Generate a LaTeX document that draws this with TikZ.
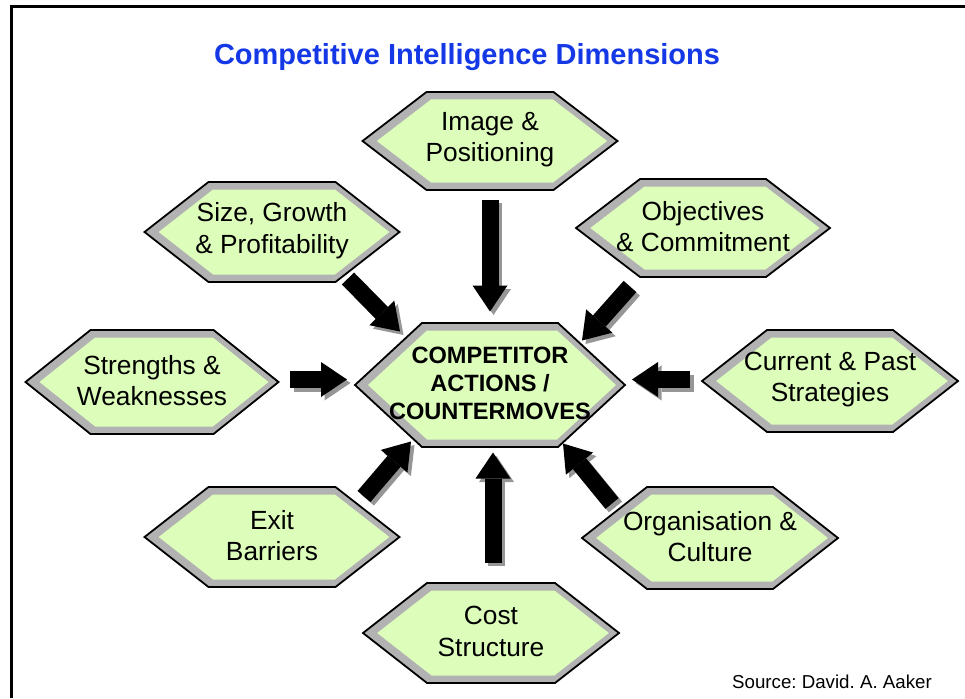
\documentclass[tikz,border=0pt]{standalone}
\usepackage{fontspec}
\setmainfont{Liberation Sans}
\usetikzlibrary{arrows.meta,calc}
\frenchspacing
\definecolor{hexgreen}{RGB}{221,253,187}
\definecolor{hexgray}{RGB}{178,178,178}
\definecolor{shadowgray}{RGB}{150,150,150}
\definecolor{titleblue}{RGB}{20,56,230}
\newcommand\hexfont{\fontsize{26.3}{31.5}\selectfont}
\newcommand\ctrfont{\bfseries\fontsize{23.6}{28}\selectfont}
% #1 name, #2 x, #3 y, #4 half width, #5 half height, #6 slant, #7 font, #8 text
\newcommand\hexbox[8]{%
  \filldraw[hexgray, draw=black, line width=1.8pt, line join=miter]
    (#2-#4,#3) -- (#2-#4+#6,#3-#5) -- (#2+#4-#6,#3-#5) -- (#2+#4,#3)
    -- (#2+#4-#6,#3+#5) -- (#2-#4+#6,#3+#5) -- cycle;
  \pgfmathsetmacro\ihh{#5-7.5}%
  \pgfmathsetmacro\isl{#6*(#5-7.5)/#5}%
  \pgfmathsetmacro\ihw{#4-7.5*sqrt(#6*#6+#5*#5)/#5}%
  \pgfmathsetmacro\icx{#2+2}%
  \fill[hexgreen]
    (\icx-\ihw,#3) -- (\icx-\ihw+\isl,#3-\ihh) -- (\icx+\ihw-\isl,#3-\ihh) -- (\icx+\ihw,#3)
    -- (\icx+\ihw-\isl,#3+\ihh) -- (\icx-\ihw+\isl,#3+\ihh) -- cycle;
  \node[font=#7, align=center, inner sep=0pt] (#1) at (#2,#3-1.5) {#8};%
}
\tikzset{
  bigarrow/.style={line width=17pt, -{Triangle[length=26pt,width=35pt,line width=0pt]}},
  arrowshadow/.style={bigarrow, draw=shadowgray, transform canvas={xshift=3.5pt,yshift=-3.5pt}},
}
% #1 from node, #2 offset, #3 to node, #4 offset
\newcommand\connect[4]{%
  \draw[arrowshadow] ($(#1)+(#2)$) -- ($(#3)+(#4)$);
  \draw[bigarrow] ($(#1)+(#2)$) -- ($(#3)+(#4)$);
}
\begin{document}
\begin{tikzpicture}[x=1pt,y=-1pt]
\useasboundingbox (0,0) rectangle (965,698);
\draw[line width=3pt] (11.3,698) -- (11.3,6.5) -- (965,6.5);
\node[font=\bfseries\fontsize{29}{34}\selectfont, text=titleblue, anchor=base] (title) at (467,64.5) {Competitive Intelligence Dimensions};
\node[font=\fontsize{18.7}{22}\selectfont, anchor=base west, inner sep=0pt] (source) at (732,688) {Source: David. A. Aaker};

\hexbox{img}{490}{141}{127.5}{49}{64}{\hexfont}{Image \&\\Positioning}
\hexbox{size}{272}{232}{127.5}{50}{64}{\hexfont}{Size, Growth\\\& Profitability}
\hexbox{obj}{703}{228}{127}{49}{64}{\hexfont}{Objectives\\\& Commitment}
\hexbox{str}{152}{382}{126.5}{52}{65}{\hexfont}{Strengths \&\\Weaknesses}
\hexbox{cur}{830}{381}{128}{51}{65}{\hexfont}{Current \& Past\\Strategies}
\hexbox{ctr}{490}{385}{135}{62}{67}{\ctrfont}{COMPETITOR\\ACTIONS /\\COUNTERMOVES}
\hexbox{exit}{272}{537}{127.5}{50}{64}{\hexfont}{Exit\\Barriers}
\hexbox{org}{710}{538}{128}{51}{65}{\hexfont}{Organisation \&\\Culture}
\hexbox{cost}{491}{633}{128}{50}{64}{\hexfont}{Cost\\Structure}

\connect{img}{0,60}{ctr}{0,-72}
\connect{size}{76,48}{ctr}{-90,-52}
\connect{obj}{-73,60}{ctr}{92,-43}
\connect{str}{138,-1}{ctr}{-143,-4}
\connect{cur}{-140,0}{ctr}{142,-4}
\connect{exit}{92,-39}{ctr}{-79,58}
\connect{cost}{2,-69}{ctr}{3,69}
\connect{org}{-98,-33}{ctr}{73,60}
\end{tikzpicture}
\end{document}
